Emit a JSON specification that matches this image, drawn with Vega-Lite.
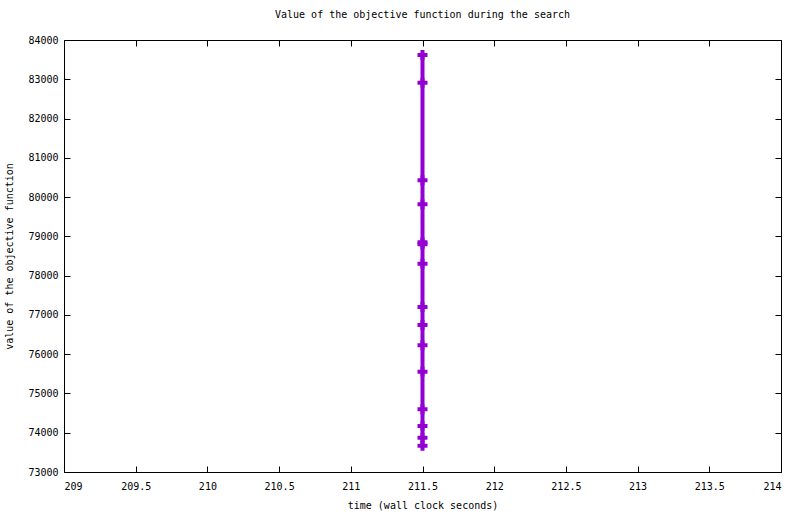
{
  "$schema": "https://vega.github.io/schema/vega-lite/v6.json",
  "width": 717,
  "height": 432,
  "autosize": {"type": "none"},
  "padding": {"left": 64, "top": 40, "right": 19, "bottom": 42},
  "background": "white",
  "title": {
    "text": "Value of the objective function during the search",
    "font": "DejaVu Sans Mono",
    "fontSize": 10,
    "fontWeight": "normal",
    "color": "black",
    "anchor": "middle",
    "offset": 15
  },
  "config": {
    "view": {"stroke": "black", "strokeWidth": 1},
    "axis": {
      "domain": false,
      "grid": false,
      "ticks": true,
      "tickColor": "black",
      "tickSize": -6,
      "tickWidth": 1,
      "labelFont": "DejaVu Sans Mono",
      "labelFontSize": 10,
      "labelColor": "black",
      "titleFont": "DejaVu Sans Mono",
      "titleFontSize": 10,
      "titleFontWeight": "normal",
      "titleColor": "black"
    }
  },
  "data": {
    "values": [
      {"time": 211.5, "value": 83620},
      {"time": 211.5, "value": 82910},
      {"time": 211.5, "value": 80430},
      {"time": 211.5, "value": 79820},
      {"time": 211.5, "value": 78850},
      {"time": 211.5, "value": 78800},
      {"time": 211.5, "value": 78300},
      {"time": 211.5, "value": 77200},
      {"time": 211.5, "value": 76740},
      {"time": 211.5, "value": 76230},
      {"time": 211.5, "value": 75550},
      {"time": 211.5, "value": 74600},
      {"time": 211.5, "value": 74170},
      {"time": 211.5, "value": 73870},
      {"time": 211.5, "value": 73670}
    ]
  },
  "layer": [
    {
      "mark": {"type": "line", "color": "#9400D3", "strokeWidth": 4},
      "encoding": {
        "x": {
          "field": "time", "type": "quantitative",
          "scale": {"domain": [209, 214], "nice": false, "zero": false},
          "axis": {
            "orient": "bottom",
            "values": [209, 209.5, 210, 210.5, 211, 211.5, 212, 212.5, 213, 213.5, 214],
            "format": "~g",
            "labelPadding": 15,
            "title": "time (wall clock seconds)",
            "titlePadding": 9
          }
        },
        "y": {
          "field": "value", "type": "quantitative",
          "scale": {"domain": [73000, 84000], "nice": false, "zero": false},
          "axis": {
            "orient": "left",
            "values": [73000, 74000, 75000, 76000, 77000, 78000, 79000, 80000, 81000, 82000, 83000, 84000],
            "format": "d",
            "labelPadding": 12,
            "title": "value of the objective function",
            "titlePadding": 13
          }
        }
      }
    },
    {
      "mark": {"type": "point", "shape": "M-1,0L1,0M0,-1L0,1", "size": 100, "strokeWidth": 4, "color": "#9400D3", "opacity": 1, "filled": false},
      "encoding": {
        "x": {
          "field": "time", "type": "quantitative",
          "scale": {"domain": [209, 214], "nice": false, "zero": false},
          "axis": {"orient": "top", "values": [209, 209.5, 210, 210.5, 211, 211.5, 212, 212.5, 213, 213.5, 214], "labels": false, "title": null}
        },
        "y": {
          "field": "value", "type": "quantitative",
          "scale": {"domain": [73000, 84000], "nice": false, "zero": false},
          "axis": {"orient": "right", "values": [73000, 74000, 75000, 76000, 77000, 78000, 79000, 80000, 81000, 82000, 83000, 84000], "labels": false, "title": null}
        }
      }
    }
  ],
  "resolve": {"axis": {"x": "independent", "y": "independent"}}
}
